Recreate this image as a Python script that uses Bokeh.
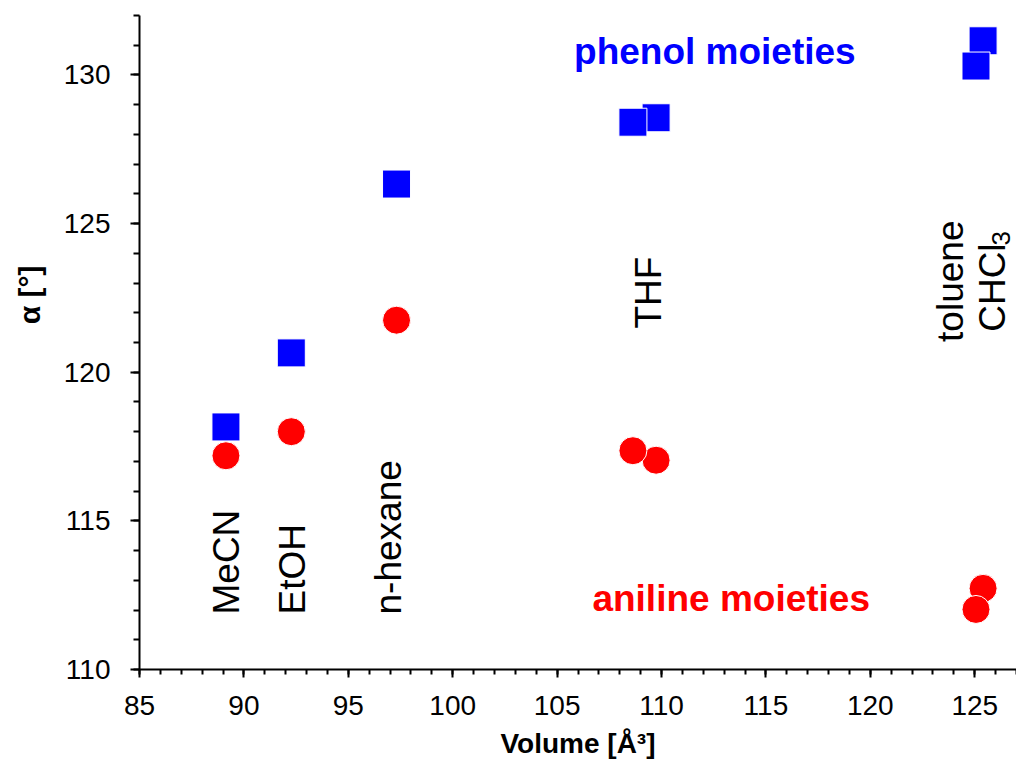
import math
from bokeh.plotting import figure
from bokeh.models import Range1d, SingleIntervalTicker, Label, Title
from bokeh.embed import file_html
from bokeh.resources import INLINE

# ---- data ----
phenol_volume = [89.14, 92.27, 97.31, 109.74, 108.63, 125.40, 125.06]
phenol_alpha = [118.16, 120.65, 126.33, 128.56, 128.41, 131.15, 130.30]
aniline_volume = [89.14, 92.27, 97.31, 109.74, 108.63, 125.40, 125.06]
aniline_alpha = [117.19, 118.00, 121.75, 117.04, 117.36, 112.73, 112.02]
solvents = ["MeCN", "EtOH", "n-hexane", "THF", "toluene", "CHCl"]

FONT = "Liberation Sans"
BLUE = "#0000FF"
RED = "#FF0000"

p = figure(width=1016, height=761, output_backend="svg", toolbar_location=None,
           x_range=Range1d(85, 127), y_range=Range1d(110, 132),
           min_border_left=139, min_border_right=0, min_border_top=15,
           min_border_bottom=92)
p.outline_line_color = None
p.grid.visible = False
p.background_fill_color = "white"
p.border_fill_color = "white"

for ax in (p.xaxis[0], p.yaxis[0]):
    ax.ticker = SingleIntervalTicker(interval=5, num_minor_ticks=5)
    ax.axis_line_width = 2
    ax.axis_line_color = "black"
    ax.major_tick_line_width = 2
    ax.minor_tick_line_width = 2
    ax.major_tick_in = 0
    ax.minor_tick_in = 0
    ax.major_label_text_font = FONT
    ax.major_label_text_font_size = "28px"
    ax.major_label_text_color = "black"

p.xaxis.major_tick_out = 8
p.xaxis.minor_tick_out = 5
p.yaxis.major_tick_out = 9
p.yaxis.minor_tick_out = 6
p.xaxis.major_label_standoff = 18
p.yaxis.major_label_standoff = 20

p.xaxis.axis_label = "Volume [Å³]"
p.xaxis.axis_label_text_font = FONT
p.xaxis.axis_label_text_font_size = "28px"
p.xaxis.axis_label_text_font_style = "bold"
p.xaxis.axis_label_text_color = "black"
p.xaxis.axis_label_standoff = 10

# y axis label as a title on the left side (placed above centre as in the reference)
p.add_layout(Title(text="α [°]", align="right", offset=250, standoff=25,
                   vertical_align="top",
                   text_font=FONT, text_font_size="30px",
                   text_font_style="bold", text_color="black"), "left")

# markers
p.scatter(phenol_volume, phenol_alpha, marker="square", size=28,
          fill_color=BLUE, line_color="white", line_width=1)
p.scatter(aniline_volume, aniline_alpha, marker="circle", size=28,
          fill_color=RED, line_color="white", line_width=1)

# series labels
p.add_layout(Label(x=105.81, y=130.78, text="phenol moieties",
                   text_font=FONT, text_font_size="37px", text_font_style="bold",
                   text_color=BLUE, text_baseline="alphabetic"))
p.add_layout(Label(x=106.69, y=112.40, text="aniline moieties",
                   text_font=FONT, text_font_size="37px", text_font_style="bold",
                   text_color=RED, text_baseline="alphabetic"))

# solvent labels (vertical)
solvent_pos = [(89.16, 111.85), (92.35, 111.85), (96.91, 111.85),
               (109.37, 121.47), (123.83, 121.02), (125.83, 121.36)]
for name, (sx, sy) in zip(solvents, solvent_pos):
    p.add_layout(Label(x=sx, y=sy, text=name, angle=math.pi / 2,
                       text_align="left", text_baseline="alphabetic",
                       text_font=FONT, text_font_size="37px", text_color="black"))
p.add_layout(Label(x=126.27, y=124.26, text="3", angle=math.pi / 2,
                   text_align="left", text_baseline="alphabetic",
                   text_font=FONT, text_font_size="26px", text_color="black"))

open("out.html", "w").write(file_html(p, INLINE))
